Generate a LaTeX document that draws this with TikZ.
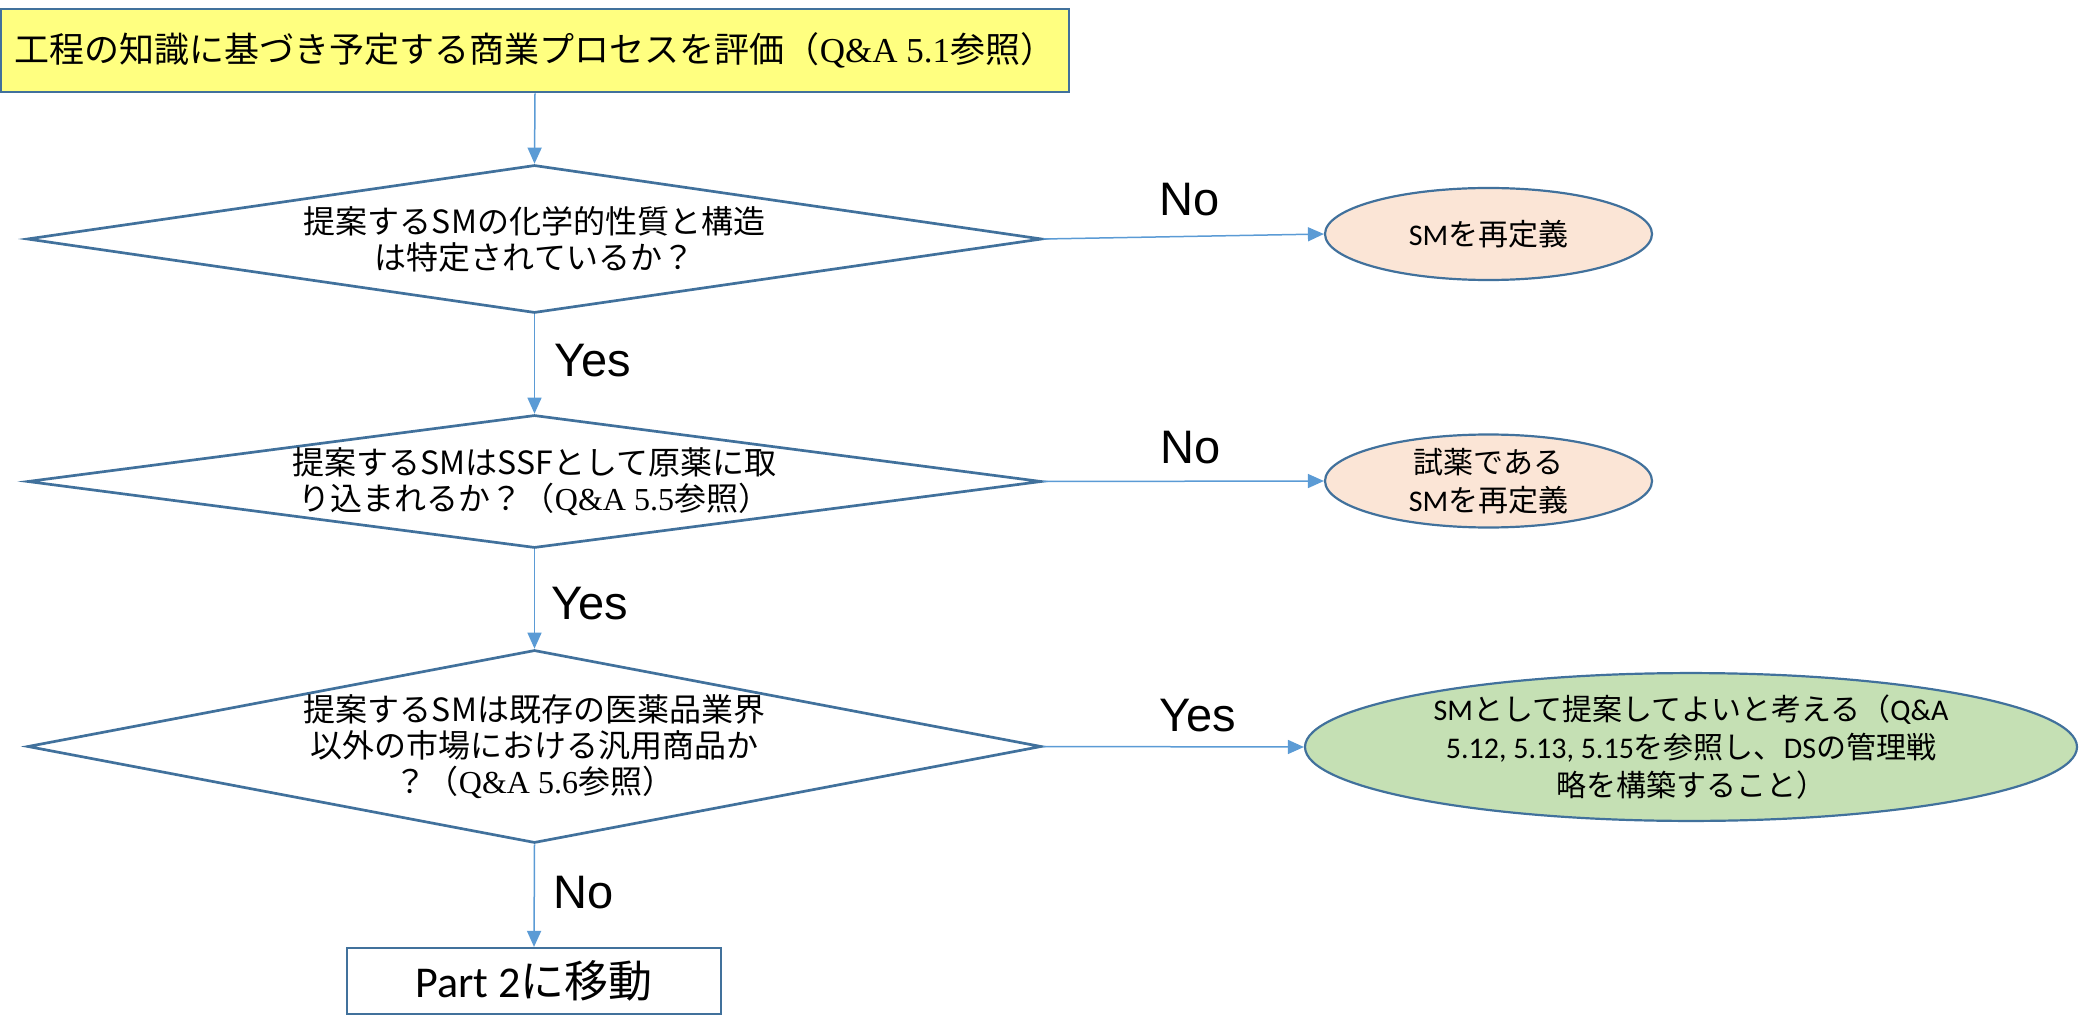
\documentclass[tikz,border=0pt]{standalone}
\usepackage{fontspec}
\setmainfont{Noto Sans CJK JP}
\newfontfamily\jpf{Noto Sans CJK JP}
\newfontfamily\serf{Liberation Serif}
\newfontfamily\arif{Liberation Sans}
\newfontfamily\calf{Carlito}
\usetikzlibrary{shapes.geometric,arrows.meta}
\definecolor{linkblue}{HTML}{5B9BD5}
\definecolor{edgeblue}{HTML}{41719C}
\definecolor{boxyellow}{HTML}{FFFF80}
\definecolor{peach}{HTML}{FBE5D6}
\definecolor{leaf}{HTML}{C5E0B4}
\tikzset{
  topbox/.style={draw=edgeblue, line width=2.7pt, fill=boxyellow, inner sep=0pt,
    font=\jpf\fontsize{35}{40}\selectfont},
  dia/.style={draw=edgeblue, line width=2.7pt, fill=white, diamond, inner sep=0pt,
    align=center, font=\jpf\fontsize{32}{36}\selectfont},
  oval/.style={draw=edgeblue, line width=2.2pt, ellipse, inner sep=0pt,
    align=center, font=\jpf\fontsize{30}{38}\selectfont},
  endbox/.style={draw=edgeblue, line width=2.2pt, fill=white, inner sep=0pt,
    font=\jpf\fontsize{44}{48}\selectfont},
  link/.style={draw=linkblue, line width=1.5pt, -{Triangle[length=16pt,width=14pt]}},
  yn/.style={font=\arif\fontsize{47}{50}\selectfont, inner sep=0pt}
}
\begin{document}
\begin{tikzpicture}[x=1pt,y=-1pt]
\useasboundingbox (0,0) rectangle (2080,1016);
\node[topbox, minimum width=1068pt, minimum height=83pt] (t) at (535,50.5)
  {工程の知識に基づき予定する商業プロセスを評価（{\serf Q\&A 5.1}参照）};
\node[dia, shape aspect=6.86, minimum width=1015pt, minimum height=148pt] (d1) at (534.5,239)
  {提案するSMの化学的性質と構造\\は特定されているか？};
\node[dia, shape aspect=7.6, minimum width=1014pt, minimum height=133pt] (d2) at (534.5,481.5)
  {提案するSMはSSFとして原薬に取\\り込まれるか？（{\serf Q\&A 5.5}参照）};
\node[dia, shape aspect=5.25, minimum width=1014pt, minimum height=193pt] (d3) at (534.5,746.5)
  {提案するSMは既存の医薬品業界\\以外の市場における汎用商品か\\？（{\serf Q\&A 5.6}参照）};
\node[oval, fill=peach, minimum width=327pt, minimum height=92pt] (e1) at (1488.5,234)
  {{\calf SM}を再定義};
\node[oval, fill=peach, minimum width=327pt, minimum height=92pt] (e2) at (1488.5,481)
  {試薬である\\{\calf SM}を再定義};
\node[oval, fill=leaf, minimum width=772pt, minimum height=130pt] (e3) at (1691,747)
  {{\calf SM}として提案してよいと考える（{\calf Q\&A}\\{\calf 5.12, 5.13, 5.15}を参照し、{\calf DS}の管理戦\\略を構築すること）};
\node[endbox, minimum width=374pt, minimum height=66pt] (p2) at (534,981)
  {{\calf Part 2}に移動};
\draw[link] (t.south) -- (d1.north);
\draw[link] (d1.south) -- (d2.north);
\draw[link] (d2.south) -- (d3.north);
\draw[link] (d3.south) -- (p2.north);
\draw[link] (d1.east) -- (e1.west);
\draw[link] (d2.east) -- (e2.west);
\draw[link] (d3.east) -- (e3.west);
\node[yn] (l1) at (1190,200) {No};
\node[yn] (l2) at (593,361) {Yes};
\node[yn] (l3) at (1191,448) {No};
\node[yn] (l4) at (590,604) {Yes};
\node[yn] (l5) at (1198,716) {Yes};
\node[yn] (l6) at (584,893) {No};
\end{tikzpicture}
\end{document}
